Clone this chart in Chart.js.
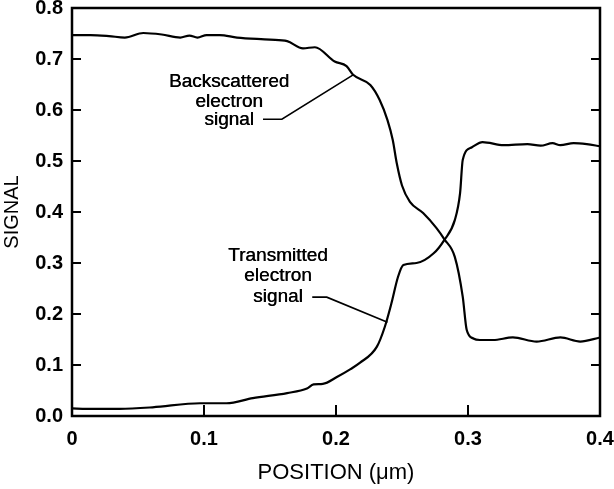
<!DOCTYPE html>
<html><head><meta charset="utf-8">
<script src="https://cdn.jsdelivr.net/npm/chart.js@4"></script>
<style>html,body{margin:0;padding:0;background:#fff}#wrap{width:614px;height:489px}</style>
</head><body><div id="wrap"><canvas id="c" width="614" height="489"></canvas></div>
<script>
const xTicks = [0, 0.1, 0.2, 0.3, 0.4];
const yTicks = [0.0, 0.1, 0.2, 0.3, 0.4, 0.5, 0.6, 0.7, 0.8];

const backX = [0.000,0.014,0.028,0.040,0.054,0.068,0.082,0.089,0.095,0.102,0.112,0.125,0.150,0.163,0.175,0.184,0.199,0.208,0.213,0.226,0.233,0.239,0.243,0.246,0.250,0.256,0.266,0.276,0.282,0.290,0.296,0.299,0.304,0.309,0.319,0.334,0.352,0.370,0.385,0.400];
const backY = [0.747,0.747,0.745,0.742,0.751,0.748,0.742,0.746,0.742,0.747,0.747,0.742,0.738,0.735,0.721,0.723,0.695,0.686,0.669,0.649,0.620,0.580,0.541,0.496,0.452,0.420,0.398,0.369,0.347,0.312,0.234,0.169,0.152,0.149,0.149,0.154,0.146,0.154,0.146,0.154];

const transX = [0.000,0.011,0.036,0.061,0.097,0.117,0.137,0.163,0.178,0.183,0.190,0.201,0.211,0.218,0.231,0.237,0.242,0.247,0.251,0.261,0.274,0.282,0.290,0.294,0.296,0.303,0.311,0.327,0.345,0.355,0.364,0.370,0.380,0.390,0.400];
const transY = [0.015,0.014,0.014,0.017,0.025,0.025,0.035,0.045,0.054,0.062,0.063,0.077,0.092,0.104,0.136,0.175,0.221,0.273,0.296,0.300,0.319,0.345,0.384,0.437,0.502,0.527,0.537,0.531,0.533,0.530,0.535,0.531,0.535,0.533,0.529];

// annotation labels: text lines, anchor (data coords), leader polyline (data coords)
const backLabel = ["Backscattered", "electron", "signal"];
const backLabelPos = {x: 0.119, y: [0.655, 0.616, 0.580]};
const backLeaderX = [0.1447, 0.159, 0.213];
const backLeaderY = [0.582, 0.582, 0.669];
const transLabel = ["Transmitted", "electron", "signal"];
const transLabelPos = {x: 0.156, y: [0.314, 0.275, 0.233]};
const transLeaderX = [0.182, 0.193, 0.239];
const transLeaderY = [0.233, 0.233, 0.184];

const toPts = (xs, ys) => xs.map((x, i) => ({x, y: ys[i]}));

const framePlugin = {
  id: 'frame',
  afterDraw(chart) {
    const {ctx, chartArea: a, scales: {x, y}} = chart;
    ctx.save();
    ctx.strokeStyle = '#000';
    ctx.lineWidth = 2.5;
    ctx.strokeRect(a.left, a.top, a.right - a.left, a.bottom - a.top);
    ctx.lineWidth = 2;
    ctx.beginPath();
    yTicks.forEach(v => {
      const py = y.getPixelForValue(v);
      ctx.moveTo(a.left, py); ctx.lineTo(a.left + 9, py);
      ctx.moveTo(a.right, py); ctx.lineTo(a.right - 9, py);
    });
    xTicks.forEach(v => {
      const px = x.getPixelForValue(v);
      ctx.moveTo(px, a.bottom); ctx.lineTo(px, a.bottom - 11);
    });
    ctx.stroke();
    // annotations
    ctx.fillStyle = '#000';
    ctx.font = '19px "Liberation Sans", Arial, sans-serif';
    ctx.textAlign = 'center';
    ctx.textBaseline = 'middle';
    const drawLabel = (lines, pos, lx, ly) => {
      lines.forEach((t, i) => {
        const px = x.getPixelForValue(pos.x), py = y.getPixelForValue(pos.y[i]);
        ctx.fillText(t, px, py);
        ctx.fillText(t, px + 0.4, py);
      });
      ctx.lineWidth = 1.6;
      ctx.beginPath();
      lx.forEach((vx, i) => {
        const px = x.getPixelForValue(vx), py = y.getPixelForValue(ly[i]);
        if (i === 0) ctx.moveTo(px, py); else ctx.lineTo(px, py);
      });
      ctx.stroke();
    };
    drawLabel(backLabel, backLabelPos, backLeaderX, backLeaderY);
    drawLabel(transLabel, transLabelPos, transLeaderX, transLeaderY);
    ctx.restore();
  }
};

new Chart(document.getElementById('c'), {
  type: 'scatter',
  data: {
    datasets: [
      {label: 'Backscattered electron signal', data: toPts(backX, backY), borderColor: '#000', backgroundColor: '#000'},
      {label: 'Transmitted electron signal', data: toPts(transX, transY), borderColor: '#000', backgroundColor: '#000'}
    ]
  },
  options: {
    responsive: false,
    animation: false,
    layout: {padding: {top: 8, right: 14, left: 0, bottom: 0}},
    datasets: {scatter: {showLine: true, borderWidth: 2.2, pointRadius: 0, cubicInterpolationMode: 'monotone', fill: false}},
    plugins: {legend: {display: false}, tooltip: {enabled: false}},
    scales: {
      x: {
        type: 'linear', min: 0, max: 0.4,
        afterFit: s => { s.height = 73; s.paddingLeft = 0; s.paddingRight = 0; },
        afterBuildTicks: s => { s.ticks = xTicks.map(v => ({value: v})); },
        grid: {display: false, drawTicks: false},
        border: {display: false},
        ticks: {padding: 11, color: '#000', font: {family: '"Liberation Sans", Arial, sans-serif', size: 20, weight: 'bold'},
          callback: v => v === 0 ? '0' : v.toFixed(1)},
        title: {display: true, text: 'POSITION (μm)', color: '#000', padding: {top: 0, bottom: 5}, font: {family: '"Liberation Sans", Arial, sans-serif', size: 22, lineHeight: 1}}
      },
      y: {
        type: 'linear', min: 0, max: 0.8,
        afterFit: s => { s.width = 72; s.paddingTop = 0; s.paddingBottom = 0; },
        afterBuildTicks: s => { s.ticks = yTicks.map(v => ({value: v})); },
        grid: {display: false, drawTicks: false},
        border: {display: false},
        ticks: {padding: 9, color: '#000', font: {family: '"Liberation Sans", Arial, sans-serif', size: 20, weight: 'bold'},
          callback: v => v.toFixed(1)},
        title: {display: true, text: 'SIGNAL', color: '#000', padding: {top: 2, bottom: 0}, font: {family: '"Liberation Sans", Arial, sans-serif', size: 20, lineHeight: 1}}
      }
    }
  },
  plugins: [framePlugin]
});
</script>
</body></html>
